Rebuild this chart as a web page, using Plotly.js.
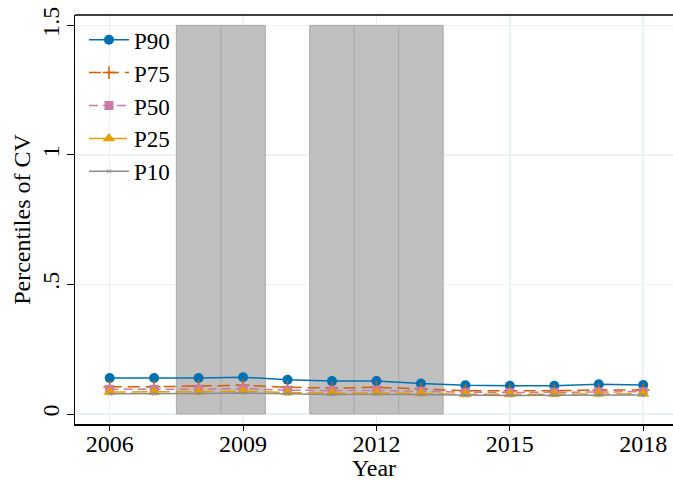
<!DOCTYPE html>
<html>
<head>
<meta charset="utf-8">
<script src="https://cdn.plot.ly/plotly-3.0.1.min.js"></script>
<style>html,body{margin:0;padding:0;background:#fff;}#chart{width:673px;height:481px;}</style>
</head>
<body>
<div id="chart"></div>
<script>
const years = [2006, 2007, 2008, 2009, 2010, 2011, 2012, 2013, 2014, 2015, 2016, 2017, 2018];
const p90 = [0.139, 0.139, 0.139, 0.142, 0.132, 0.127, 0.127, 0.118, 0.111, 0.109, 0.109, 0.115, 0.112];
const p75 = [0.105, 0.105, 0.108, 0.111, 0.103, 0.100, 0.103, 0.097, 0.090, 0.090, 0.090, 0.093, 0.093];
const p50 = [0.095, 0.095, 0.096, 0.098, 0.092, 0.090, 0.091, 0.088, 0.084, 0.083, 0.084, 0.086, 0.086];
const p25 = [0.085, 0.085, 0.086, 0.088, 0.083, 0.081, 0.082, 0.079, 0.076, 0.076, 0.077, 0.078, 0.078];
const p10 = [0.078, 0.078, 0.079, 0.081, 0.077, 0.075, 0.076, 0.074, 0.071, 0.071, 0.072, 0.073, 0.073];
const shadedYears = [2008, 2009, 2011, 2012, 2013];
const shadedTop = [1.5, 1.5, 1.5, 1.5, 1.5];
const yTickVals = [0, 0.5, 1, 1.5];
const yTickText = ["0", ".5", "1", "1.5"];
const xTickVals = [2006, 2009, 2012, 2015, 2018];

const font = "Liberation Serif";

const traces = [
  {type: 'bar', x: shadedYears, y: shadedTop, width: 1, showlegend: false, hoverinfo: 'skip',
   marker: {color: '#c0c0c0', line: {color: '#a9a9a9', width: 1}}},
  {type: 'scatter', mode: 'lines+markers', name: 'P90', x: years, y: p90,
   line: {color: '#0072B2', width: 1.5}, marker: {symbol: 'circle', size: 10, color: '#0072B2'}},
  {type: 'scatter', mode: 'lines+markers', name: 'P75', x: years, y: p75,
   line: {color: '#D55E00', width: 1.5, dash: '12px,6px'}, marker: {symbol: 'cross-thin', size: 9, line: {color: '#D55E00', width: 1.5}, color: '#D55E00'}},
  {type: 'scatter', mode: 'lines+markers', name: 'P50', x: years, y: p50,
   line: {color: '#CC79A7', width: 1.5, dash: '9px,5px'}, marker: {symbol: 'square', size: 9, color: '#CC79A7'}},
  {type: 'scatter', mode: 'lines+markers', name: 'P25', x: years, y: p25,
   line: {color: '#E69F00', width: 1.5, dash: '16px,6px'}, marker: {symbol: 'triangle-up', size: 11, color: '#E69F00'}},
  {type: 'scatter', mode: 'lines+markers', name: 'P10', x: years, y: p10,
   line: {color: '#8c8c8c', width: 1.5}, marker: {symbol: 'x-thin', size: 4, line: {color: '#8c8c8c', width: 1}, color: '#8c8c8c'}}
];

const layout = {
  width: 673, height: 481,
  margin: {l: 75, r: 0, t: 15, b: 57},
  paper_bgcolor: '#ffffff', plot_bgcolor: '#ffffff',
  font: {family: font, size: 24, color: '#000'},
  showlegend: true,
  barmode: 'overlay',
  legend: {x: 0.015, y: 0.992, xanchor: 'left', yanchor: 'top', bgcolor: 'rgba(0,0,0,0)',
           font: {family: font, size: 23}, tracegroupgap: 0, itemwidth: 40},
  xaxis: {range: [2005.22, 2018.67], tickvals: xTickVals, ticks: 'outside', ticklen: 5, tickcolor: '#000',
          showline: true, linecolor: '#000', linewidth: 1.5, showgrid: true, gridcolor: '#eaf2f3', gridwidth: 1.5,
          zeroline: false, tickfont: {family: font, size: 24}, ticklabelstandoff: -7,
          title: {text: 'Year', font: {family: font, size: 24}, standoff: 7}},
  yaxis: {range: [-0.0386, 1.54], tickvals: yTickVals, ticktext: yTickText, tickangle: -90,
          ticks: 'outside', ticklen: 7, tickcolor: '#000', ticklabelstandoff: -2,
          showline: true, linecolor: '#000', linewidth: 1.5, showgrid: true, gridcolor: '#eaf2f3', gridwidth: 1.5,
          zeroline: false, tickfont: {family: font, size: 24},
          title: {text: 'Percentiles of CV', font: {family: font, size: 24}, standoff: 0}},
  shapes: [{type: 'line', xref: 'paper', yref: 'paper', x0: 0, x1: 1, y0: 1, y1: 1, line: {color: '#000', width: 1.5}}]
};

Plotly.newPlot('chart', traces, layout, {displayModeBar: false, staticPlot: true});
</script>
</body>
</html>
